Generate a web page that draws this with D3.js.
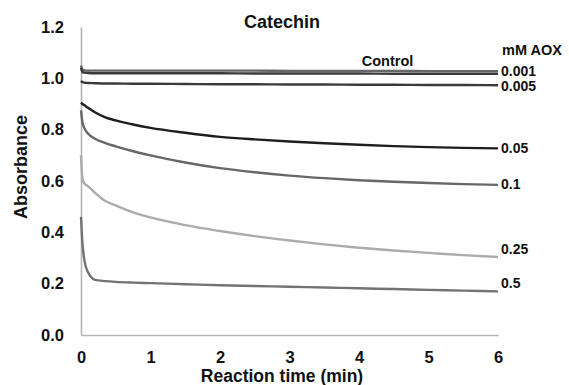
<!DOCTYPE html>
<html>
<head>
<meta charset="utf-8">
<script src="https://cdn.jsdelivr.net/npm/d3@7"></script>
<style>
    body { margin: 0; background: #fff; }
    svg text { font-family: "Liberation Sans", Arial, sans-serif; font-weight: bold; fill: #111; }
</style>
</head>
<body>
<svg id="chart" width="569" height="385"></svg>
<script>
// Reaction time (min)
const times = [0, 0.02, 0.05, 0.1, 0.2, 0.35, 0.5, 0.75, 1, 1.5, 2, 2.5, 3, 3.5, 4, 4.5, 5, 5.5, 6];

// Absorbance for each AOX concentration
const control = [1.05, 1.035, 1.031, 1.03, 1.03, 1.03, 1.03, 1.03, 1.03, 1.03, 1.03, 1.03, 1.029, 1.029, 1.029, 1.029, 1.028, 1.028, 1.028];
const aox0001 = [1.04, 1.025, 1.022, 1.021, 1.02, 1.02, 1.02, 1.02, 1.02, 1.02, 1.02, 1.019, 1.019, 1.019, 1.019, 1.018, 1.018, 1.018, 1.018];
const aox0005 = [0.99, 0.985, 0.983, 0.982, 0.981, 0.98, 0.98, 0.979, 0.979, 0.978, 0.977, 0.977, 0.976, 0.976, 0.975, 0.975, 0.974, 0.974, 0.973];
const aox005 = [0.905, 0.9, 0.895, 0.885, 0.868, 0.848, 0.836, 0.82, 0.807, 0.788, 0.772, 0.762, 0.754, 0.747, 0.741, 0.736, 0.732, 0.729, 0.727];
const aox01 = [0.875, 0.83, 0.805, 0.785, 0.765, 0.748, 0.735, 0.716, 0.7, 0.672, 0.65, 0.634, 0.621, 0.611, 0.603, 0.597, 0.592, 0.588, 0.585];
const aox025 = [0.7, 0.61, 0.59, 0.58, 0.555, 0.522, 0.505, 0.478, 0.458, 0.428, 0.405, 0.385, 0.368, 0.353, 0.34, 0.329, 0.32, 0.311, 0.304];
const aox05 = [0.46, 0.36, 0.29, 0.245, 0.215, 0.21, 0.207, 0.204, 0.202, 0.198, 0.194, 0.191, 0.188, 0.185, 0.182, 0.179, 0.176, 0.173, 0.17];

const seriesNames = ["Control", "0.001", "0.005", "0.05", "0.1", "0.25", "0.5"];
const seriesValues = [control, aox0001, aox0005, aox005, aox01, aox025, aox05];

const xTicks = [0, 1, 2, 3, 4, 5, 6];
const yTicks = [0, 0.2, 0.4, 0.6, 0.8, 1.0, 1.2];

const colors = {
    "Control": "#666", "0.001": "#3a3a3a", "0.005": "#3a3a3a",
    "0.05": "#1e1e1e", "0.1": "#676767", "0.25": "#ababab", "0.5": "#737373"
};
// small vertical nudges for the end labels
const labelShift = { "0.001": -3, "0.005": 1, "0.05": 0, "0.1": -1, "0.25": -8, "0.5": -8 };

const svg = d3.select("#chart");
const margin = { top: 27, right: 71, bottom: 50, left: 81 };
const width = 569 - margin.left - margin.right;
const height = 385 - margin.top - margin.bottom;

const x = d3.scaleLinear().domain([0, 6]).range([margin.left, margin.left + width]);
const y = d3.scaleLinear().domain([0, 1.2]).range([margin.top + height, margin.top]);

// Axes
const xAxis = svg.append("g")
    .attr("transform", `translate(0,${margin.top + height})`)
    .call(d3.axisBottom(x).tickValues(xTicks).tickFormat(d3.format("d")).tickSize(0).tickPadding(16));

const yAxis = svg.append("g")
    .attr("transform", `translate(${margin.left},0)`)
    .call(d3.axisLeft(y).tickValues(yTicks).tickFormat(d3.format(".1f")).tickSize(0).tickPadding(17));

[xAxis, yAxis].forEach(a => {
    a.select(".domain").attr("stroke", "#b4b4b4").attr("stroke-width", 1.6);
    a.selectAll("text")
        .style("font-size", "16.5px")
        .style("font-family", "'Liberation Sans', Arial, sans-serif")
        .style("font-weight", "bold")
        .attr("fill", "#111");
});

// Lines
const line = d3.line()
    .x((d, i) => x(times[i]))
    .y(d => y(d))
    .curve(d3.curveMonotoneX);

const order = [5, 6, 4, 3, 2, 0, 1];
svg.append("g")
    .selectAll("path")
    .data(order)
    .join("path")
    .attr("d", i => line(seriesValues[i]))
    .attr("fill", "none")
    .attr("stroke", i => colors[seriesNames[i]])
    .attr("stroke-width", 2.4);

// End labels
seriesNames.forEach((name, i) => {
    if (name === "Control") return;
    const vals = seriesValues[i];
    svg.append("text")
        .attr("x", x(6) + 3)
        .attr("y", y(vals[vals.length - 1]) + labelShift[name])
        .attr("dy", "0.36em")
        .style("font-size", "14px")
        .text(name);
});

svg.append("text")
    .attr("x", x(4.04))
    .attr("y", y(control[14]) - 5)
    .style("font-size", "14.5px")
    .text("Control");

svg.append("text")
    .attr("x", x(6) + 4)
    .attr("y", 55)
    .style("font-size", "14.5px")
    .text("mM AOX");

// Titles
svg.append("text")
    .attr("x", 282)
    .attr("y", 28)
    .attr("text-anchor", "middle")
    .style("font-size", "18px")
    .text("Catechin");

svg.append("text")
    .attr("x", 282)
    .attr("y", 382)
    .attr("text-anchor", "middle")
    .style("font-size", "17.5px")
    .text("Reaction time (min)");

svg.append("text")
    .attr("transform", "translate(27,167) rotate(-90)")
    .attr("text-anchor", "middle")
    .style("font-size", "18px")
    .text("Absorbance");
</script>
</body>
</html>
